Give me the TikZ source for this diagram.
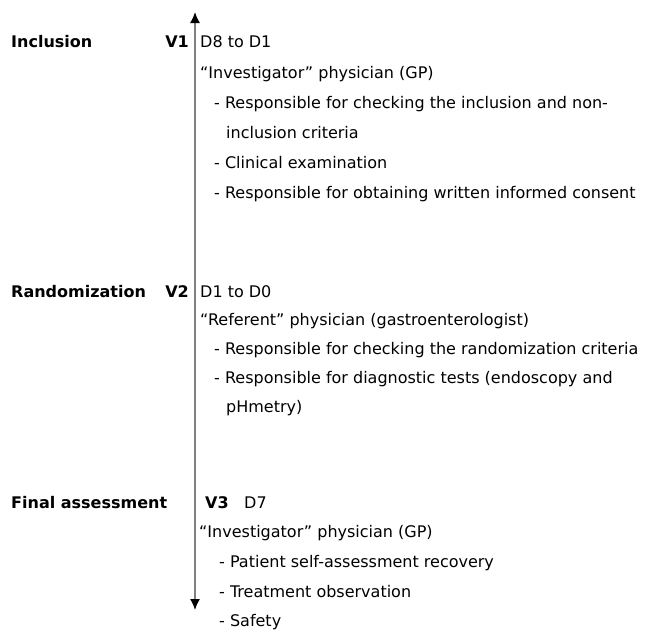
\documentclass[tikz,border=0pt]{standalone}
\usepackage{fontspec}
\setmainfont{DejaVu Sans}
\usetikzlibrary{arrows.meta}
\begin{document}
\begin{tikzpicture}[x=1pt,y=-1pt,
  txt/.style={anchor=base west,inner sep=0pt,font=\fontsize{16}{19}\selectfont},
  head/.style={anchor=base west,inner sep=0pt,font=\fontsize{16}{19}\selectfont\bfseries},
  visit/.style={anchor=base east,inner sep=0pt,font=\fontsize{16}{19}\selectfont\bfseries},
  tip/.style={Latex[length=11pt,width=10pt,color=black]},
  axis/.style={draw=black!50, line width=1.5pt, {Latex[length=11pt,width=10pt,color=black]}-{Latex[length=11pt,width=10pt,color=black]}}]
\useasboundingbox (0,0) rectangle (651,632);
\coordinate (top) at (195,12);
\coordinate (bot) at (195,610);
\draw[axis] (top) -- (bot);
% Block 1
\node[head] (inc) at (11,47) {Inclusion};
\node[visit] (v1) at (189,47) {V1};
\node[txt] (d1) at (200,47) {D8 to D1};
\node[txt] (p1) at (200,78) {“Investigator” physician (GP)};
\node[txt] (a1) at (214,108) {- Responsible for checking the inclusion and non-};
\node[txt] (a1b) at (226,138) {inclusion criteria};
\node[txt] (a2) at (214,168) {- Clinical examination};
\node[txt] (a3) at (214,198) {- Responsible for obtaining written informed consent};
% Block 2
\node[head] (rnd) at (11,297) {Randomization};
\node[visit] (v2) at (189,297) {V2};
\node[txt] (d2) at (200,297) {D1 to D0};
\node[txt] (p2) at (200,325) {“Referent” physician (gastroenterologist)};
\node[txt] (b1) at (214,354) {- Responsible for checking the randomization criteria};
\node[txt] (b2) at (214,383) {- Responsible for diagnostic tests (endoscopy and};
\node[txt] (b2b) at (226,412) {pHmetry)};
% Block 3
\node[head] (fin) at (11,508) {Final assessment};
\node[head] (v3) at (205,508) {V3};
\node[txt] (d3) at (244,508) {D7};
\node[txt] (p3) at (199,537) {“Investigator” physician (GP)};
\node[txt] (c1) at (219,567) {- Patient self-assessment recovery};
\node[txt] (c2) at (219,597) {- Treatment observation};
\node[txt] (c3) at (219,626) {- Safety};
\end{tikzpicture}
\end{document}
